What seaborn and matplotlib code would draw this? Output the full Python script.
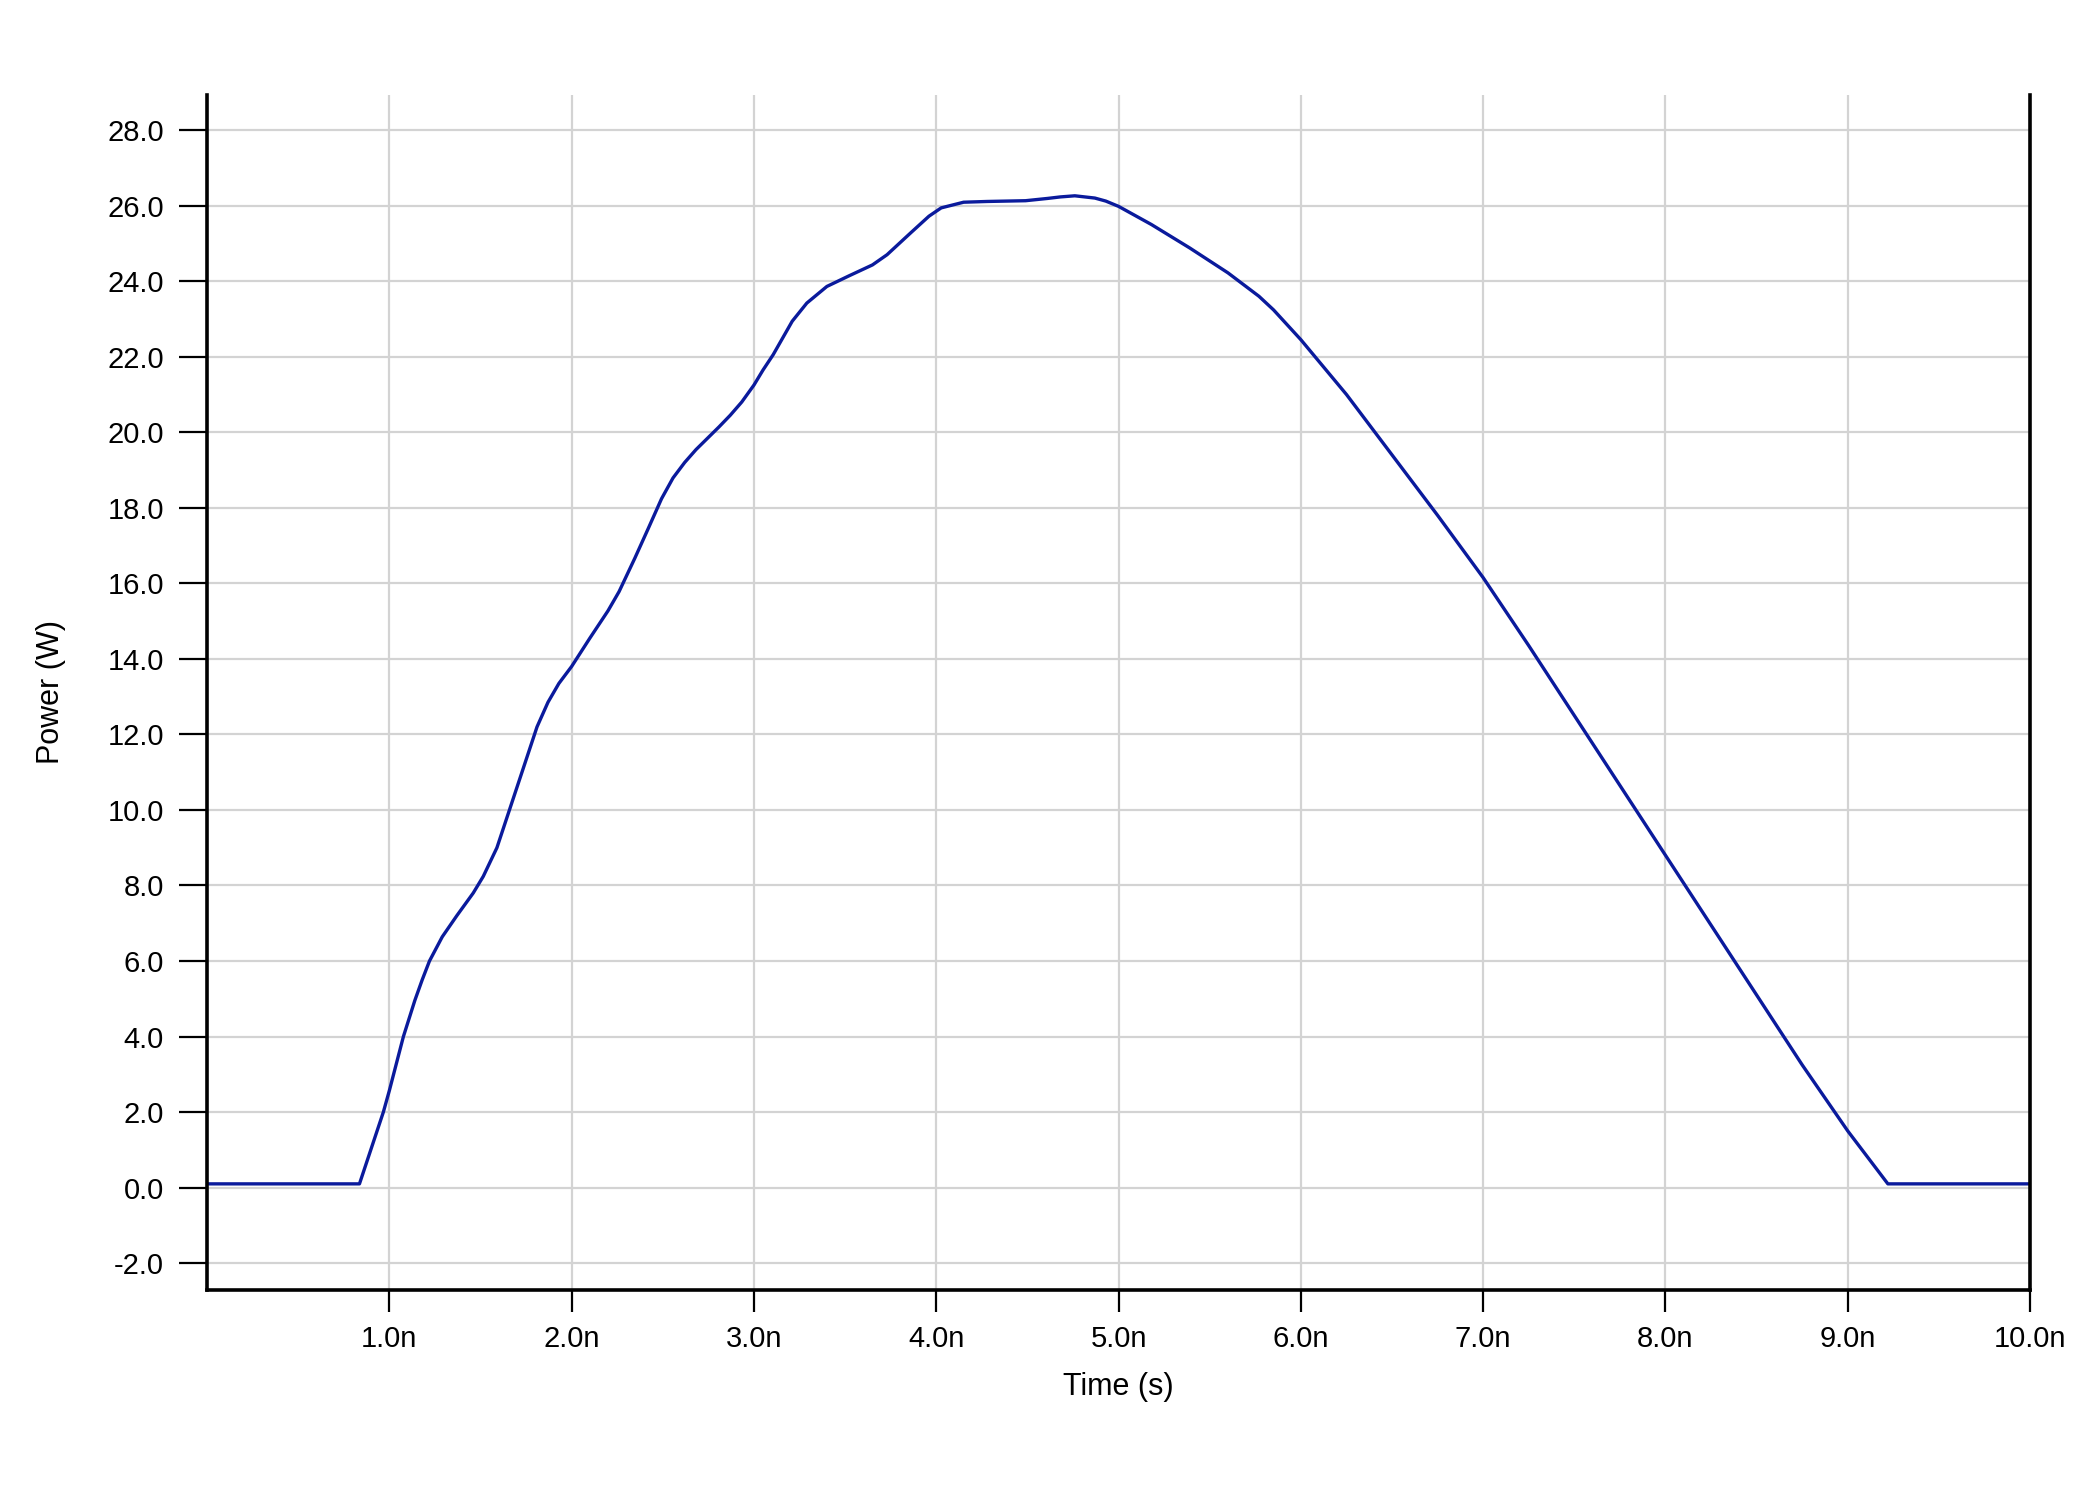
import matplotlib
matplotlib.use("Agg")
import matplotlib.pyplot as plt
import seaborn as sns
import pandas as pd

# Time in ns, power in W
time_ns = [0.0, 0.836, 0.967, 1.0, 1.077, 1.14, 1.18, 1.22, 1.29, 1.37, 1.46, 1.515,
           1.59, 1.70, 1.81, 1.87, 1.93, 2.0, 2.1, 2.199, 2.26, 2.346, 2.42, 2.493,
           2.556, 2.62, 2.682, 2.808, 2.87, 2.933, 3.0, 3.05, 3.105, 3.21, 3.29,
           3.40, 3.521, 3.65, 3.73, 3.86, 3.96, 4.027, 4.15, 4.28, 4.49, 4.61,
           4.68, 4.76, 4.87, 4.93, 5.0, 5.18, 5.39, 5.60, 5.77, 5.85, 6.0, 6.25,
           6.5, 6.75, 7.0, 7.25, 7.5, 7.75, 8.0, 8.25, 8.5, 8.75, 9.0, 9.22, 10.0]
power_w = [0.1, 0.1, 2.0, 2.57, 4.0, 4.96, 5.5, 6.0, 6.64, 7.2, 7.80, 8.24,
           9.0, 10.6, 12.2, 12.85, 13.35, 13.8, 14.55, 15.27, 15.78, 16.66, 17.45, 18.24,
           18.79, 19.2, 19.54, 20.14, 20.45, 20.8, 21.25, 21.65, 22.05, 22.94, 23.42,
           23.86, 24.14, 24.43, 24.70, 25.28, 25.72, 25.94, 26.09, 26.11, 26.13, 26.19,
           26.23, 26.26, 26.20, 26.12, 25.98, 25.50, 24.88, 24.22, 23.60, 23.24, 22.45, 21.0,
           19.4, 17.8, 16.15, 14.35, 12.5, 10.65, 8.8, 6.95, 5.1, 3.25, 1.5, 0.1, 0.1]

x_ticks = [1, 2, 3, 4, 5, 6, 7, 8, 9, 10]
x_tick_labels = ["1.0n", "2.0n", "3.0n", "4.0n", "5.0n", "6.0n", "7.0n", "8.0n", "9.0n", "10.0n"]
y_ticks = [-2, 0, 2, 4, 6, 8, 10, 12, 14, 16, 18, 20, 22, 24, 26, 28]
y_tick_labels = ["-2.0", "0.0", "2.0", "4.0", "6.0", "8.0", "10.0", "12.0", "14.0",
                 "16.0", "18.0", "20.0", "22.0", "24.0", "26.0", "28.0"]

sns.set_theme(style="white")
plt.rcParams["font.family"] = ["Liberation Sans", "DejaVu Sans"]

df = pd.DataFrame({"Time": time_ns, "Power": power_w})

fig = plt.figure(figsize=(21, 15), dpi=100)
ax = fig.add_axes([0.0986, 0.14, 0.9667 - 0.0986, 0.9367 - 0.14])

sns.lineplot(data=df, x="Time", y="Power", ax=ax, color="#0a1a9c",
             linewidth=2.4, sort=False, estimator=None)
for ln in ax.get_lines():
    ln.set_solid_joinstyle("round")

ax.set_xlim(0, 10)
ax.set_ylim(-2.71, 28.93)
ax.set_xticks(x_ticks)
ax.set_xticklabels(x_tick_labels)
ax.set_yticks(y_ticks)
ax.set_yticklabels(y_tick_labels)

ax.grid(True, color="#d3d3d3", linewidth=1.6)
ax.set_axisbelow(True)

for side in ["left", "bottom", "right"]:
    ax.spines[side].set_visible(True)
    ax.spines[side].set_color("black")
    ax.spines[side].set_linewidth(2.6)
ax.spines["top"].set_visible(False)

ax.tick_params(axis="x", direction="out", length=16, width=1.6, color="black",
               labelsize=21, pad=9, bottom=True, labelcolor="black")
ax.tick_params(axis="y", direction="out", length=20, width=1.6, color="black",
               labelsize=21, pad=11, left=True, labelcolor="black")

ax.set_xlabel("Time (s)", fontsize=22, labelpad=14, color="black")
ax.set_ylabel("Power (W)", fontsize=22, labelpad=30, color="black")

fig.savefig("out.png", dpi=100, facecolor="white")
